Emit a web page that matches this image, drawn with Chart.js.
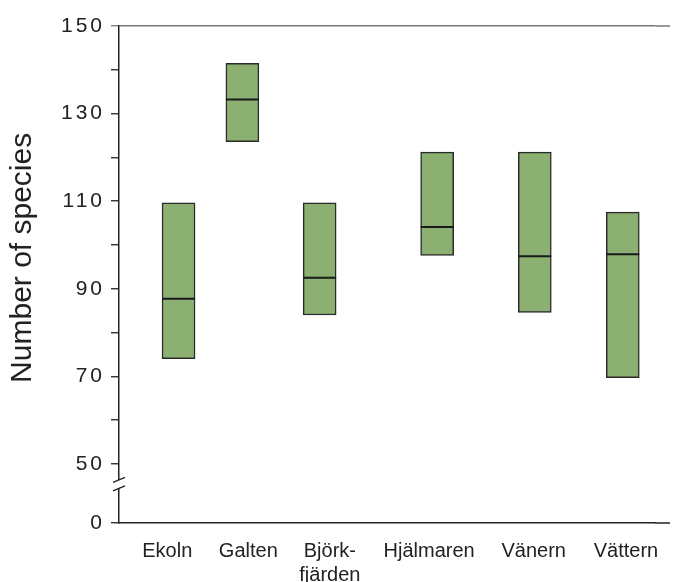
<!DOCTYPE html>
<html>
<head>
<meta charset="utf-8">
<script src="https://cdn.jsdelivr.net/npm/chart.js@4/dist/chart.umd.min.js"></script>
<style>
  body { margin: 0; background: #fff; }
  canvas { display: block; }
</style>
</head>
<body>
<canvas id="chart" width="674" height="582"></canvas>
<script>
// lakes and their species ranges
var lakes = ['Ekoln', 'Galten', 'Björkfjärden', 'Hjälmaren', 'Vänern', 'Vättern'];
var lakeLabels = [['Ekoln'], ['Galten'], ['Björk-', 'fjärden'], ['Hjälmaren'], ['Vänern'], ['Vättern']];
var lows = [74, 123.6, 84, 97.6, 84.6, 69.7];
var highs = [109.6, 141.5, 109.6, 121.2, 121.2, 107.5];
var medians = [87.7, 133.2, 92.5, 104.1, 97.4, 97.9];
var yTickLabels = [50, 70, 90, 110, 130, 150];

// layout: where each lake bar and its label sit along the x axis (0-100)
var slots = [11.1, 23.0, 37.4, 59.3, 77.5, 93.9];
var labelSlots = [9.0, 24.1, 39.3, 57.8, 77.3, 94.5];
var yBreak = 36.5;   // bottom of the broken axis, shown as 0
var fontFamily = "'Liberation Sans', Arial, sans-serif";

var rangeData = [];
var medianData = [];
for (var i = 0; i < lakes.length; i++) {
  rangeData.push({x: slots[i], y: [lows[i], highs[i]]});
  medianData.push({x: slots[i], y: medians[i]});
}

// tick letter spacing, axis break marks, axis lines run to the edge
var axisPlugin = {
  id: 'axisExtras',
  afterLayout: function(chart) {
    var s = chart.scales.y;
    if (!s._spaced) {
      var orig = s.drawLabels;
      s.drawLabels = function(area) {
        this.ctx.save();
        this.ctx.letterSpacing = '3px';
        orig.call(this, area);
        this.ctx.restore();
      };
      s._spaced = true;
    }
  },
  afterDraw: function(chart) {
    var ctx = chart.ctx;
    var s = chart.scales.y;
    var area = chart.chartArea;
    var x = area.left;
    var yc = s.getPixelForValue(50) + 20;
    var edge = chart.width - 4;
    ctx.save();
    // top line and baseline carry on to the edge
    ctx.lineWidth = 1.5;
    ctx.strokeStyle = '#777';
    ctx.beginPath();
    ctx.moveTo(area.right, s.getPixelForValue(150)); ctx.lineTo(edge, s.getPixelForValue(150));
    ctx.stroke();
    ctx.strokeStyle = '#222';
    ctx.beginPath();
    ctx.moveTo(area.right, area.bottom); ctx.lineTo(edge, area.bottom);
    ctx.stroke();
    // break
    ctx.fillStyle = '#fff';
    ctx.fillRect(x - 3, yc - 4, 6, 8);
    ctx.lineWidth = 1.3;
    ctx.beginPath();
    ctx.moveTo(x - 6, yc - 1.5); ctx.lineTo(x + 6, yc - 6.5);
    ctx.moveTo(x - 6, yc + 7); ctx.lineTo(x + 6, yc + 2);
    ctx.stroke();
    ctx.restore();
  }
};

new Chart(document.getElementById('chart'), {
  type: 'bar',
  data: {
    datasets: [
      {
        type: 'bar',
        order: 1,
        data: rangeData,
        backgroundColor: '#8bb071',
        borderColor: '#2a2a2a',
        borderWidth: 1.5,
        borderSkipped: false,
        barThickness: 33,
        grouped: false
      },
      {
        type: 'line',
        order: 0,
        data: medianData,
        showLine: false,
        pointStyle: 'line',
        pointRadius: 16.5,
        pointHoverRadius: 16.5,
        borderColor: '#1a1a1a',
        borderWidth: 2
      }
    ]
  },
  options: {
    responsive: false,
    animation: false,
    layout: { padding: { top: 26, right: 4, left: 0, bottom: 0 } },
    plugins: { legend: { display: false }, tooltip: { enabled: false } },
    scales: {
      x: {
        type: 'linear',
        min: 0,
        max: 100,
        offset: false,
        grid: { display: false },
        border: { display: true, color: '#222', width: 1.5 },
        afterBuildTicks: function(scale) {
          scale.ticks = labelSlots.map(function(v) { return {value: v}; });
        },
        afterFit: function(scale) {
          scale.height = 59;
          scale.paddingLeft = 0;
          scale.paddingRight = 0;
        },
        ticks: {
          autoSkip: false,
          maxRotation: 0,
          padding: 8,
          color: '#222',
          font: { family: fontFamily, size: 20 },
          callback: function(v) {
            var idx = labelSlots.indexOf(v);
            return idx >= 0 ? lakeLabels[idx] : '';
          }
        }
      },
      y: {
        min: yBreak,
        max: 150,
        afterBuildTicks: function(scale) {
          var t = [{value: yBreak}];
          for (var v = 50; v <= 150; v += 10) t.push({value: v});
          scale.ticks = t;
        },
        afterFit: function(scale) { scale.width = 119; },
        grid: {
          drawOnChartArea: true,
          tickLength: 8,
          color: function(c) { return c.tick && c.tick.value === 150 ? '#777' : 'rgba(0,0,0,0)'; },
          tickColor: function(c) { return c.tick && c.tick.value === 150 ? '#777' : '#222'; },
          lineWidth: 1.5,
          tickWidth: 1.3
        },
        border: { display: true, color: '#222', width: 1.5 },
        title: {
          display: true,
          text: '    Number of species',
          color: '#222',
          font: { family: fontFamily, size: 30 },
          padding: { top: 5, bottom: 0 }
        },
        ticks: {
          autoSkip: false,
          padding: 6,
          color: '#222',
          font: { family: fontFamily, size: 21 },
          callback: function(v) {
            if (v === yBreak) return '0';
            return yTickLabels.indexOf(v) >= 0 ? String(v) : '';
          }
        }
      }
    }
  },
  plugins: [axisPlugin]
});
</script>
</body>
</html>
